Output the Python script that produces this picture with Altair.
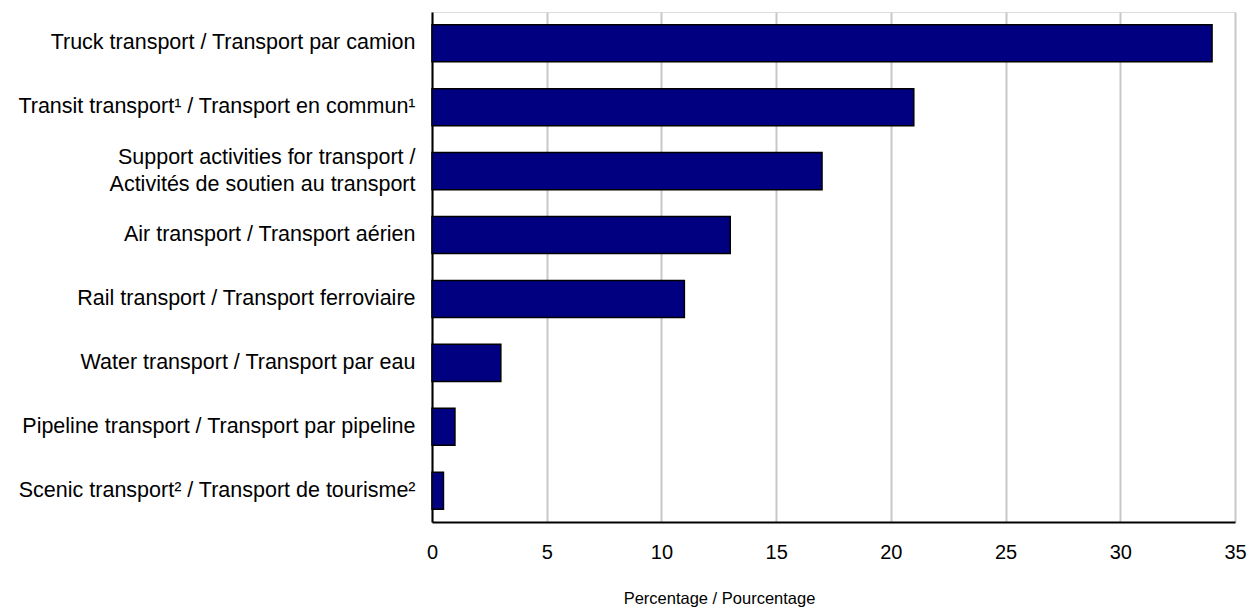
import altair as alt
import pandas as pd

categories = [
    "Truck transport / Transport par camion",
    "Transit transport¹ / Transport en commun¹",
    "Support activities for transport /|Activités de soutien au transport",
    "Air transport / Transport aérien",
    "Rail transport / Transport ferroviaire",
    "Water transport / Transport par eau",
    "Pipeline transport / Transport par pipeline",
    "Scenic transport² / Transport de tourisme²",
]
values = [34, 21, 17, 13, 11, 3, 1, 0.5]
x_ticks = [0, 5, 10, 15, 20, 25, 30, 35]

df = pd.DataFrame({"cat": categories, "val": values})

chart = alt.Chart(df).mark_bar(
    color="#000080", stroke="#000000", strokeWidth=1.5
).encode(
    x=alt.X(
        "val:Q",
        scale=alt.Scale(domain=[0, 35], nice=False),
        axis=alt.Axis(
            values=x_ticks,
            title="Percentage / Pourcentage",
            titleFont="Liberation Sans",
            titleFontSize=16.5,
            titleFontWeight="normal",
            titleColor="#000000",
            titleX=287,
            titleY=76,
            titleAlign="center",
            titleBaseline="middle",
            labelFont="Liberation Sans",
            labelFontSize=20,
            labelColor="#000000",
            labelPadding=20,
            labelFlush=False,
            ticks=False,
            domainColor="#000000",
            domainWidth=2,
            grid=True,
            gridColor="#c8c8c8",
            gridWidth=2,
        ),
    ),
    y=alt.Y(
        "cat:N",
        sort=categories,
        scale=alt.Scale(paddingInner=0.42, paddingOuter=0.2),
        axis=alt.Axis(
            title=None,
            labelExpr="split(datum.label, '|')",
            labelFont="Liberation Sans",
            labelFontSize=21.5,
            labelColor="#000000",
            labelLineHeight=27,
            labelPadding=17,
            labelLimit=500,
            labelOffset={
                "condition": {"test": "indexof(datum.value, '|') >= 0", "value": -13},
                "value": 0,
            },
            ticks=False,
            domainColor="#000000",
            domainWidth=2,
            grid=False,
        ),
    ),
).properties(
    width=803,
    height=510,
    autosize=alt.AutoSizeParams(type="none"),
    padding={"left": 424, "top": 4, "right": 12, "bottom": 85},
).configure_view(
    stroke="#555555", strokeWidth=1.5
).configure(background="#ffffff")

chart.save("out.html", embed_options={"renderer": "svg", "actions": False})
